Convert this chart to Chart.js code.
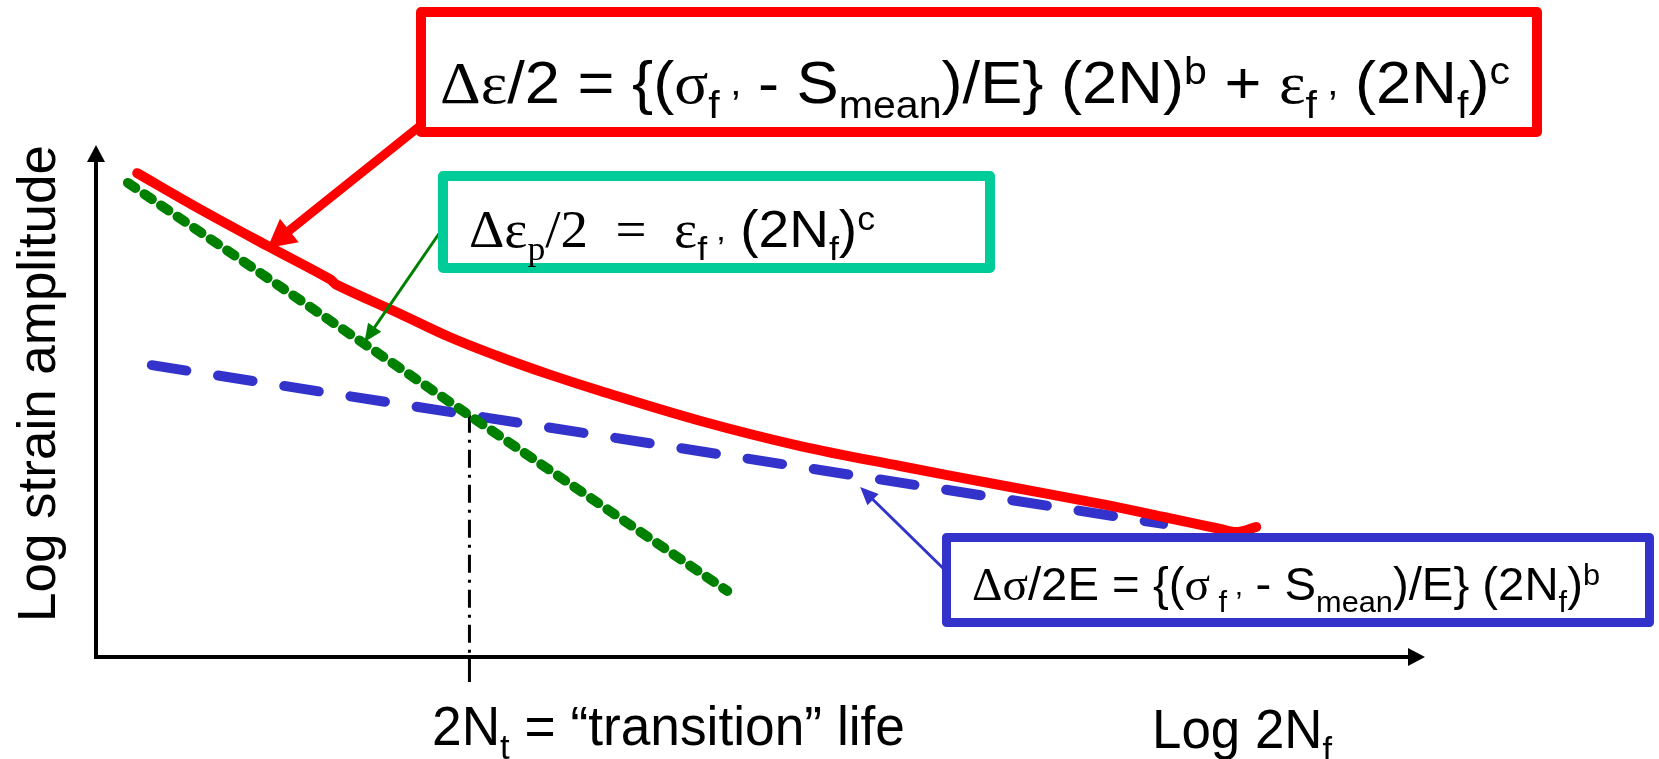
<!DOCTYPE html>
<html><head><meta charset="utf-8">
<script src="https://cdn.jsdelivr.net/npm/chart.js@4.4.1/dist/chart.umd.min.js"></script>
<style>html,body{margin:0;padding:0;background:#fff;}#wrap{width:1659px;height:759px;position:relative;}</style>
</head><body><div id="wrap"><canvas id="c"></canvas></div>
<script>
// ---- data (schematic units: x = log 2Nf, y = log strain amplitude, both 0..100) ----
const totalX = [3.1, 7.8, 12.9, 17.6, 18.1, 22.9, 26.6, 30.4, 34.2, 37.9, 45.5, 53.0, 60.5, 68.0, 75.6, 80.6, 84.6, 85.9, 87.3];
const totalY = [94.5, 87.5, 80.3, 73.8, 72.7, 67.0, 62.5, 58.6, 55.1, 52.0, 46.1, 41.2, 37.3, 33.6, 29.9, 27.2, 25.0, 24.4, 25.4];
const plasticX = [2.4, 47.5];
const plasticY = [92.6, 12.9];
const elasticX = [4.2, 80.3];
const elasticY = [57.0, 26.0];
const transitionX = [28.1, 28.1];
const transitionY = [47.3, 0];
const transitionTickY = [0, -4.9];
const arrowTipX = [12.9, 20.2, 57.5];
const arrowTipY = [79.9, 61.5, 33.2];

// ---- text (segments: [text, style]) ----
const totalEq = [['Δε','serif'],['/2 = {(',''],['σ','serif'],['f ’','sub'],[' - S',''],['mean','sub'],[')/E} (2N)',''],['b','sup'],[' + ',''],['ε','serif'],['f ’','sub'],[' (2N',''],['f','sub'],[')',''],['c','sup']];
const plasticEq = [['Δε','serif'],['p','sub serif'],['/2  =  ','serif'],['ε','serif'],['f ’','sub'],[' (2N',''],['f','sub'],[')',''],['c','sup']];
const elasticEq = [['Δσ','serif'],['/2E = {(',''],['σ','serif'],[' f ’','sub'],[' - S',''],['mean','sub'],[')/E} (2N',''],['f','sub'],[')',''],['b','sup']];
const xLabelTransition = [['2N',''],['t','sub'],[' = “transition” life','']];
const xLabelAxis = [['Log 2N',''],['f','sub']];
const yLabelAxis = [['Log strain amplitude','']];

const SANS = '"Liberation Sans", Arial, sans-serif';
const SERIF = '"Liberation Serif", "Times New Roman", serif';
function segFont(s, F){
  const small = s[1].includes('sub') || s[1].includes('sup');
  const size = small ? 0.65*F : F;
  const fam = s[1].includes('serif') ? SERIF : SANS;
  return size + 'px ' + fam;
}
function drawRich(ctx, segs, x, y, F, width){
  let total = 0; const ws = [];
  for (const s of segs){ ctx.font = segFont(s, F); const w = ctx.measureText(s[0]).width; ws.push(w); total += w; }
  const sx = width ? width/total : 1;
  ctx.save(); ctx.translate(x, y); ctx.scale(sx, 1);
  ctx.fillStyle = '#000'; ctx.textBaseline = 'alphabetic'; ctx.textAlign = 'left';
  let cx = 0;
  segs.forEach((s, i) => {
    ctx.font = segFont(s, F);
    let dy = 0;
    if (s[1].includes('sub')) dy = 0.25*F;
    if (s[1].includes('sup')) dy = -0.32*F;
    ctx.fillText(s[0], cx, dy);
    cx += ws[i];
  });
  ctx.restore();
}
function arrow(ctx, x1, y1, x2, y2, color, lw, hl, hw){
  const a = Math.atan2(y2-y1, x2-x1);
  const bx = x2 - hl*Math.cos(a), by = y2 - hl*Math.sin(a);
  ctx.save();
  ctx.strokeStyle = color; ctx.fillStyle = color; ctx.lineWidth = lw; ctx.lineCap = 'butt';
  ctx.beginPath(); ctx.moveTo(x1, y1); ctx.lineTo(bx + 2*Math.cos(a), by + 2*Math.sin(a)); ctx.stroke();
  ctx.beginPath(); ctx.moveTo(x2, y2);
  ctx.lineTo(bx + hw*Math.sin(a), by - hw*Math.cos(a));
  ctx.lineTo(bx - hw*Math.sin(a), by + hw*Math.cos(a));
  ctx.closePath(); ctx.fill();
  ctx.restore();
}
function box(ctx, x0, y0, x1, y1, lw, color){
  ctx.save();
  ctx.fillStyle = '#fff'; ctx.strokeStyle = color; ctx.lineWidth = lw; ctx.lineJoin = 'round';
  ctx.beginPath(); ctx.rect(x0 + lw/2, y0 + lw/2, x1 - x0 - lw, y1 - y0 - lw); ctx.fill(); ctx.stroke();
  ctx.restore();
}

const axesPlugin = {
  id: 'axesArrows',
  beforeDatasetsDraw(chart){
    const ctx = chart.ctx; const {left, right, top, bottom} = chart.chartArea;
    ctx.save();
    ctx.strokeStyle = '#000'; ctx.fillStyle = '#000'; ctx.lineWidth = 4; ctx.lineCap = 'butt';
    ctx.beginPath(); ctx.moveTo(left, bottom + 2); ctx.lineTo(left, top + 15); ctx.stroke();
    ctx.beginPath(); ctx.moveTo(left, top); ctx.lineTo(left - 9, top + 17); ctx.lineTo(left + 9, top + 17); ctx.closePath(); ctx.fill();
    ctx.beginPath(); ctx.moveTo(left - 2, bottom); ctx.lineTo(right - 15, bottom); ctx.stroke();
    ctx.beginPath(); ctx.moveTo(right, bottom); ctx.lineTo(right - 17, bottom - 9); ctx.lineTo(right - 17, bottom + 9); ctx.closePath(); ctx.fill();
    ctx.restore();
  }
};

const annotPlugin = {
  id: 'annot',
  afterDraw(chart){
    const ctx = chart.ctx; const xs = chart.scales.x, ys = chart.scales.y;
    const tip = i => [xs.getPixelForValue(arrowTipX[i]), ys.getPixelForValue(arrowTipY[i])];
    let t = tip(0); arrow(ctx, 425, 122, t[0], t[1], '#FF0000', 9, 28, 15);
    t = tip(1); arrow(ctx, 447, 222, t[0], t[1], '#008000', 3, 18, 8);
    t = tip(2); arrow(ctx, 950, 575, t[0], t[1], '#3333CC', 3, 18, 8);
    box(ctx, 416, 7, 1542, 137, 10, '#FF0000');
    box(ctx, 438, 171, 995, 273, 10, '#00CC99');
    box(ctx, 942, 533, 1654, 627, 9, '#3333CC');
    drawRich(ctx, totalEq, 440, 103, 60, 1070);
    drawRich(ctx, plasticEq, 469, 247, 52, 406);
    drawRich(ctx, elasticEq, 972, 600, 46, 628);
    drawRich(ctx, xLabelTransition, 432, 745, 55, 473);
    drawRich(ctx, xLabelAxis, 1152, 748, 55, 180);
    ctx.save(); ctx.translate(55, 622); ctx.rotate(-Math.PI/2);
    drawRich(ctx, yLabelAxis, 0, 0, 53, 477);
    ctx.restore();
  }
};

const pts = (xa, ya) => xa.map((x, i) => ({x, y: ya[i]}));

new Chart(document.getElementById('c'), {
  type: 'scatter',
  data: { datasets: [
    { label: 'Total', data: pts(totalX, totalY), showLine: true, borderColor: '#FF0000', borderWidth: 10,
      borderCapStyle: 'round', borderJoinStyle: 'round', tension: 0.35, pointRadius: 0, clip: false },
    { label: 'Plastic', data: pts(plasticX, plasticY), showLine: true, borderColor: '#008000', borderWidth: 10,
      borderDash: [9, 11], borderCapStyle: 'round', pointRadius: 0, clip: false },
    { label: 'Transition', data: pts(transitionX, transitionY), showLine: true, borderColor: '#000', borderWidth: 3,
      borderDash: [18, 7, 3, 7], pointRadius: 0, clip: false },
    { label: 'TransitionTick', data: pts(transitionX, transitionTickY), showLine: true, borderColor: '#000', borderWidth: 3,
      pointRadius: 0, clip: false },
    { label: 'Elastic', data: pts(elasticX, elasticY), showLine: true, borderColor: '#3333CC', borderWidth: 10,
      borderDash: [35, 32], borderCapStyle: 'round', pointRadius: 0, clip: false }
  ]},
  options: {
    responsive: true, maintainAspectRatio: false, animation: false,
    layout: { padding: { left: 96, right: 234, top: 145, bottom: 102 } },
    scales: {
      x: { type: 'linear', min: 0, max: 100, display: false },
      y: { type: 'linear', min: 0, max: 100, display: false }
    },
    plugins: { legend: { display: false }, tooltip: { enabled: false } },
    events: []
  },
  plugins: [axesPlugin, annotPlugin]
});
</script></body></html>
